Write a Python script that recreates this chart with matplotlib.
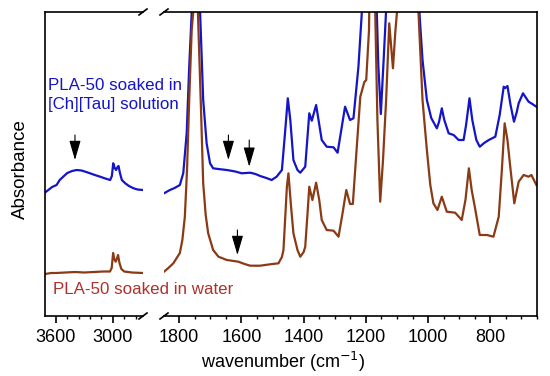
import matplotlib
matplotlib.use("Agg")
import matplotlib.pyplot as plt
from matplotlib.ticker import MultipleLocator

plt.rcParams['font.family'] = ['Liberation Sans', 'DejaVu Sans']

# ---------------- data (absorbance, arbitrary units) ----------------
# high-wavenumber region
wn_hi_blue = [3715, 3680, 3640, 3593, 3560, 3523, 3480, 3430, 3381, 3330, 3280, 3240, 3190,
              3134, 3080, 3028, 3010, 2996, 2980, 2966, 2950, 2940, 2925, 2905, 2869, 2830,
              2781, 2740, 2682]
abs_hi_blue = [123.5, 126, 129, 131, 136, 139.3, 143, 145, 146, 145.5, 144, 142.7, 141,
               139.3, 137.5, 136, 140, 152.7, 148, 146, 149, 150, 143, 136, 132.7, 130,
               127.7, 126.5, 126]

wn_hi_red = [3715, 3650, 3600, 3500, 3400, 3300, 3200, 3100, 3030, 3012, 2997, 2985, 2970,
             2955, 2945, 2930, 2910, 2880, 2800, 2682]
abs_hi_red = [42, 43, 43, 43.5, 44, 43.5, 44, 44.5, 44.5, 48, 63, 57, 54.3,
              58, 61, 53, 47, 44.5, 43.5, 43]

# fingerprint region
wn_lo_blue = [1849, 1830, 1815, 1798, 1787, 1776, 1768, 1760, 1752, 1746, 1740, 1733, 1723,
              1712, 1701, 1691, 1675, 1647, 1620, 1599, 1572, 1555, 1540, 1520, 1503, 1487,
              1470, 1460, 1451, 1443, 1433, 1420, 1411, 1395, 1382, 1374, 1360, 1342, 1326,
              1304, 1291, 1267, 1251, 1240, 1224, 1213, 1200, 1185, 1172, 1165, 1160, 1152,
              1143, 1135, 1128, 1100, 1085, 1060, 1045, 1028, 1018, 1004, 990, 972, 965,
              956, 948, 934, 918, 902, 886, 878, 867, 858, 845, 834, 820, 805, 784, 770,
              757, 752, 745, 735, 724, 715, 709, 695, 685, 677, 665, 652]
abs_lo_blue = [122.7, 126, 128, 131, 143, 183, 249, 303, 420, 450, 420, 304, 216,
               172.7, 152.7, 147.7, 147, 146, 144.5, 142.7, 143.3, 142, 140, 138, 136, 139.3,
               146, 183, 217.7, 196, 156, 146, 143.3, 149.3, 202.7, 195.3, 211, 176, 169.3,
               168.7, 163.3, 209.3, 196, 197.7, 249.3, 304, 420, 450, 400, 304, 250, 202,
               256, 306, 420, 420, 450, 430, 430, 304, 256, 216, 198, 187.7, 194,
               207.7, 196, 182.7, 181, 176, 176, 191, 217.7, 196, 176, 169.3, 173, 176, 179.3, 201,
               229.3, 228, 230, 211, 194.3, 204, 212.7, 222.7, 218, 214.3, 212, 209.3]

wn_lo_red = [1849, 1835, 1819, 1798, 1790, 1782, 1775, 1768, 1760, 1755, 1748, 1740, 1730,
             1723, 1715, 1707, 1691, 1674, 1647, 1610, 1590, 1572, 1540, 1508, 1481, 1470,
             1465, 1458, 1454, 1449, 1441, 1433, 1420, 1411, 1400, 1395, 1388, 1382, 1372,
             1360, 1350, 1342, 1326, 1304, 1288, 1276, 1263, 1251, 1242, 1230, 1218, 1205,
             1199, 1190, 1185, 1175, 1170, 1163, 1154, 1145, 1135, 1125, 1113, 1105, 1100,
             1085, 1045, 1031, 1018, 1004, 993, 983, 970, 956, 940, 913, 892, 880, 869,
             860, 850, 834, 811, 790, 773, 763, 754, 745, 736, 723, 709, 693, 677, 668, 652]
abs_lo_red = [44.3, 48, 52.7, 63, 76, 99.3, 146, 216, 286, 304, 450, 304, 206,
              132.7, 101, 82.7, 66, 59.3, 56, 54.3, 52, 50.3, 50.3, 51.7, 52.7, 59,
              66, 106, 129.3, 142.7, 111, 82.7, 66, 59.3, 64, 69.3, 101, 129.3, 116,
              133.3, 116, 96, 86, 85.3, 79.3, 101, 126, 112, 112, 166, 219.3, 234,
              236, 286, 420, 420, 304, 196, 114.3, 156, 216, 292.7, 247.7, 286, 304,
              450, 430, 304, 216, 166, 131, 112.7, 106, 119.3, 104.3, 103.3, 96, 116, 147.7,
              126, 109.3, 81, 81, 79.3, 99.3, 146, 192.7, 176, 149.3, 112.7, 134.3, 141, 139.3, 141, 131]

# arrow markers (wavenumber, tip absorbance, tail absorbance)
arrows_hi = [(3399, 156, 181)]
arrows_lo = [(1642, 156, 181), (1575, 149.3, 176), (1613, 61, 86)]

label_blue = "PLA-50 soaked in\n[Ch][Tau] solution"
label_red = "PLA-50 soaked in water"

hi_ticks = [3600, 3000]
lo_ticks = [1800, 1600, 1400, 1200, 1000, 800]

BLUE = '#1414c8'
RED = '#8a3a14'
RED_TXT = '#b0302a'

# ---------------- figure ----------------
W, H = 550, 376
fig = plt.figure(figsize=(W / 100, H / 100), dpi=100)
bot = 1 - 316 / H
top = 1 - 12 / H
axL = fig.add_axes([45 / W, bot, (143 - 45) / W, top - bot])
axR = fig.add_axes([164 / W, bot, (537 - 164) / W, top - bot])

lw = 1.6
axL.plot(wn_hi_blue, abs_hi_blue, color=BLUE, lw=lw)
axL.plot(wn_hi_red, abs_hi_red, color=RED, lw=lw)
axR.plot(wn_lo_blue, abs_lo_blue, color=BLUE, lw=lw)
axR.plot(wn_lo_red, abs_lo_red, color=RED, lw=lw)

axL.set_xlim(3715, 2682)
axR.set_xlim(1849, 650)
for ax in (axL, axR):
    ax.set_ylim(0, 304)
    ax.set_yticks([])
    for s in ax.spines.values():
        s.set_linewidth(1.2)
    ax.tick_params(axis='x', which='major', direction='out', length=5, width=1.2,
                   labelsize=13, pad=4)
    ax.tick_params(axis='x', which='minor', direction='out', length=2.5, width=1.0)

axL.spines['right'].set_visible(False)
axR.spines['left'].set_visible(False)
axL.set_xticks(hi_ticks)
axL.xaxis.set_minor_locator(MultipleLocator(120))
axR.set_xticks(lo_ticks)
axR.xaxis.set_minor_locator(MultipleLocator(50))

fig.text(20 / W, 1 - 169 / H, "Absorbance", fontsize=13.5, rotation=90,
         ha='center', va='center')
fig.text(283 / W, 1 - 362 / H, "wavenumber (cm$^{-1}$)", fontsize=13,
         ha='center', va='center')

# break marks
for xc in (143, 164):
    for yc in (12, 316):
        fig.add_artist(plt.Line2D([(xc - 4) / W, (xc + 4) / W],
                                  [1 - (yc + 3) / H, 1 - (yc - 3) / H],
                                  color='black', lw=1.2, transform=fig.transFigure))

# arrows
aprops = dict(arrowstyle='-|>,head_length=1.2,head_width=0.35', color='black', lw=0.8,
              shrinkA=0, shrinkB=0)
for x, ytip, ytail in arrows_hi:
    axL.annotate('', xy=(x, ytip), xytext=(x, ytail), arrowprops=aprops)
for x, ytip, ytail in arrows_lo:
    axR.annotate('', xy=(x, ytip), xytext=(x, ytail), arrowprops=aprops)

fig.text(48 / W, 1 - 95 / H, label_blue, color=BLUE, fontsize=12.2, ha='left', va='center',
         linespacing=1.35)
fig.text(53 / W, 1 - 289 / H, label_red, color=RED_TXT, fontsize=12.2, ha='left', va='center')

fig.savefig("out.png", dpi=100)
